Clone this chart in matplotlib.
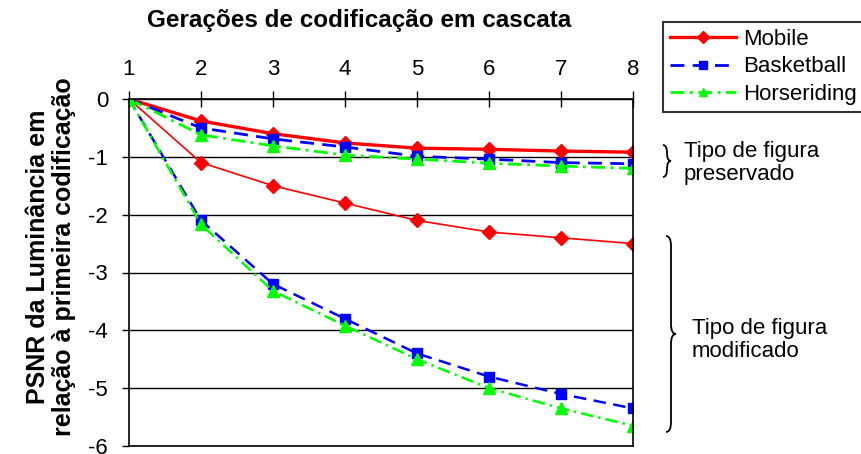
import numpy as np
import matplotlib.pyplot as plt
from matplotlib.path import Path
from matplotlib.patches import PathPatch

plt.rcParams['font.family'] = ['Liberation Sans', 'DejaVu Sans']

# cascade generations
gens = [1, 2, 3, 4, 5, 6, 7, 8]

# luminance PSNR relative to first coding, figure type preserved
mobile_pres = [0, -0.38, -0.6, -0.76, -0.85, -0.87, -0.9, -0.92]
basket_pres = [0, -0.5, -0.69, -0.83, -0.99, -1.04, -1.1, -1.12]
horse_pres = [0, -0.62, -0.81, -0.97, -1.04, -1.11, -1.16, -1.2]

# figure type modified
mobile_mod = [0, -1.1, -1.5, -1.8, -2.1, -2.3, -2.4, -2.5]
basket_mod = [0, -2.1, -3.2, -3.8, -4.4, -4.8, -5.1, -5.35]
horse_mod = [0, -2.17, -3.32, -3.92, -4.5, -5.0, -5.35, -5.65]

yticks = [0, -1, -2, -3, -4, -5, -6]

W, H = 861, 454
fig = plt.figure(figsize=(W / 100, H / 100), dpi=100)
ax = fig.add_axes([129 / W, 1 - 446 / H, (633 - 129) / W, (446 - 99) / H])

red, blue, green = '#ff0000', '#0000ff', '#00ff00'

ax.plot(gens, mobile_pres, color=red, lw=2.4, marker='D', ms=7, label='Mobile')
ax.plot(gens, basket_pres, color=blue, lw=2, ls=(0, (5, 3)), marker='s', ms=7,
        label='Basketball')
ax.plot(gens, horse_pres, color=green, lw=2, ls=(0, (5, 2, 1, 2)), marker='^', ms=8,
        label='Horseriding')
ax.plot(gens, mobile_mod, color=red, lw=1.2, marker='D', ms=7)
ax.plot(gens, basket_mod, color=blue, lw=1.8, ls=(0, (5, 3)), marker='s', ms=7)
ax.plot(gens, horse_mod, color=green, lw=1.8, ls=(0, (5, 2, 1, 2)), marker='^', ms=8)

ax.set_xlim(1, 8)
ax.set_ylim(-6, 0)
ax.set_yticks(yticks)
ax.set_yticklabels([str(v) for v in yticks], fontsize=16)
ax.set_xticks(gens)
ax.set_xticklabels([str(g) for g in gens], fontsize=16)
ax.xaxis.tick_top()
ax.tick_params(axis='x', direction='inout', length=12, width=1, pad=8)
ax.tick_params(axis='y', direction='out', length=5, width=1, pad=10)
ax.grid(axis='y', color='black', lw=1)
for s in ax.spines.values():
    s.set_linewidth(1.2)
for lab in ax.get_xticklabels() + ax.get_yticklabels():
    lab.set_clip_on(False)

fig.text(359 / W, 1 - 20 / H, 'Gerações de codificação em cascata', fontsize=17.5,
         fontweight='bold', ha='center', va='center')
fig.text(51 / W, 1 - 257 / H, 'PSNR da Luminância em\nrelação à primeira codificação',
         rotation=90, ha='center', va='center', fontsize=18, fontweight='bold',
         linespacing=1.15)

leg = fig.legend(loc='upper left', bbox_to_anchor=(663 / W, 1 - 22 / H),
                 fontsize=16, frameon=True, fancybox=False, edgecolor='black',
                 borderaxespad=0, handlelength=3.0, borderpad=0.3,
                 labelspacing=0.3, handletextpad=0.3)
leg.get_frame().set_linewidth(1.5)
for h in leg.legend_handles:
    h.set_markersize(6)


def brace(x, ytop, ybot, w):
    # curly brace "}" in pixel coords -> figure fraction
    ym = (ytop + ybot) / 2
    r = min(10, (ybot - ytop) / 4)
    pts = [(x, ytop), (x + w / 2, ytop), (x + w / 2, ytop + r),
           (x + w / 2, ym - r), (x + w / 2, ym), (x + w, ym),
           (x + w / 2, ym), (x + w / 2, ym + r),
           (x + w / 2, ybot - r), (x + w / 2, ybot), (x, ybot)]
    codes = [Path.MOVETO, Path.CURVE3, Path.CURVE3, Path.LINETO,
             Path.CURVE3, Path.CURVE3, Path.CURVE3, Path.CURVE3,
             Path.LINETO, Path.CURVE3, Path.CURVE3]
    verts = [(px / W, 1 - py / H) for px, py in pts]
    fig.add_artist(PathPatch(Path(verts, codes), fill=False, lw=1.3,
                             color='black', transform=fig.transFigure))


brace(663, 145, 177, 8)
brace(666, 236, 432, 10)

fig.text(684 / W, 1 - 163 / H, 'Tipo de figura\npreservado', fontsize=16,
         va='center', ha='left', linespacing=1.1)
fig.text(692 / W, 1 - 340 / H, 'Tipo de figura\nmodificado', fontsize=16,
         va='center', ha='left', linespacing=1.1)

fig.savefig('out.png', dpi=100)
